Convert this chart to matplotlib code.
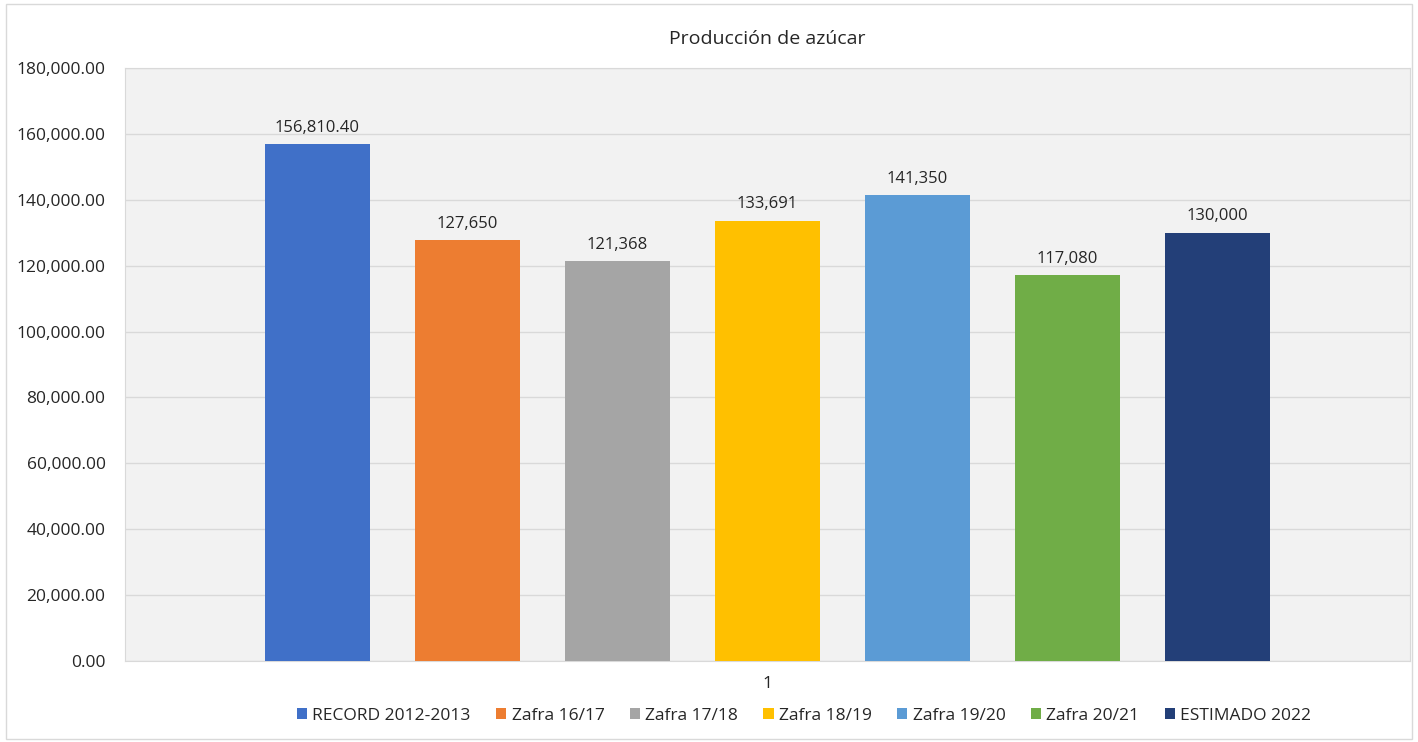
import matplotlib
matplotlib.use('Agg')
import matplotlib.pyplot as plt
from matplotlib.ticker import FuncFormatter, MultipleLocator
from matplotlib.patches import Rectangle

plt.rcParams['font.family'] = ['Open Sans', 'DejaVu Sans']

series = ['RECORD 2012-2013', 'Zafra 16/17', 'Zafra 17/18', 'Zafra 18/19',
          'Zafra 19/20', 'Zafra 20/21', 'ESTIMADO 2022']
values = [156810.40, 127650, 121368, 133691, 141350, 117080, 130000]
labels = ['156,810.40', '127,650', '121,368', '133,691', '141,350', '117,080', '130,000']
colors = ['#4070C8', '#ED7D31', '#A5A5A5', '#FFC000', '#5B9BD5', '#70AD47', '#233F78']
category = ['1']

fig = plt.figure(figsize=(14.18, 7.42), dpi=100)
fig.patches.append(Rectangle((0.004, 0.004), 0.992, 0.99, transform=fig.transFigure,
                             fill=False, edgecolor='#d9d9d9', linewidth=1))
ax = fig.add_axes([125/1418, 1 - 661/742, (1410-125)/1418, (661-68)/742])
ax.set_facecolor('#f2f2f2')

step = 150/1285
width = 105/1285
n = len(values)
for i, (name, v, lab, c) in enumerate(zip(series, values, labels, colors)):
    x = (i - (n - 1) / 2) * step
    ax.bar(x, v, width=width, color=c, label=name, zorder=3)
    ax.annotate(lab, (x, v), xytext=(0, 6), textcoords='offset points',
                ha='center', va='bottom', fontsize=12, color='#262626')

ax.set_xlim(-0.5, 0.5)
ax.set_ylim(0, 180000)
ax.set_xticks([0])
ax.set_xticklabels(category)
ax.yaxis.set_major_locator(MultipleLocator(20000))
ax.yaxis.set_major_formatter(FuncFormatter(lambda v, p: f'{v:,.2f}'))
ax.tick_params(axis='both', length=0, labelsize=12.5, colors='#262626')
ax.tick_params(axis='y', pad=14)
ax.tick_params(axis='x', pad=11)
ax.grid(axis='y', color='#d9d9d9', linewidth=1, zorder=0)
for s in ax.spines.values():
    s.set_color('#d9d9d9')

ax.set_title('Producción de azúcar', fontsize=14, color='#262626', pad=17)

leg = fig.legend(loc='center', bbox_to_anchor=(804/1418, 1 - 716/742), ncol=n,
                 frameon=False, fontsize=12.5, handlelength=0.6, handleheight=0.6,
                 handletextpad=0.3, columnspacing=1.45)
for t in leg.get_texts():
    t.set_color('#262626')

fig.savefig('out.png', dpi=100, facecolor='white')
